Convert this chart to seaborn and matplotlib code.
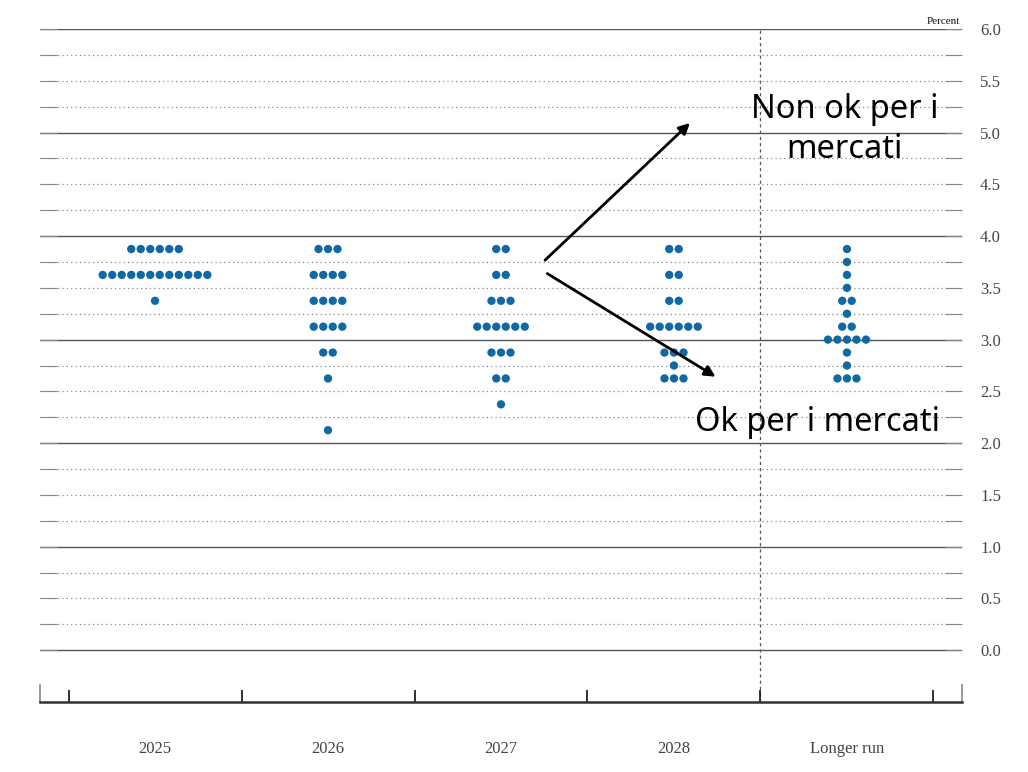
import numpy as np
import pandas as pd
import seaborn as sns
import matplotlib.pyplot as plt

# FOMC dot plot: each entry is (rate, number of participants)
categories = ['2025', '2026', '2027', '2028', 'Longer run']
dots_2025 = [(3.875, 6), (3.625, 12), (3.375, 1)]
dots_2026 = [(3.875, 3), (3.625, 4), (3.375, 4), (3.125, 4), (2.875, 2), (2.625, 1), (2.125, 1)]
dots_2027 = [(3.875, 2), (3.625, 2), (3.375, 3), (3.125, 6), (2.875, 3), (2.625, 2), (2.375, 1)]
dots_2028 = [(3.875, 2), (3.625, 2), (3.375, 2), (3.125, 6), (2.875, 3), (2.75, 1), (2.625, 3)]
dots_longer = [(3.875, 1), (3.75, 1), (3.625, 1), (3.5, 1), (3.375, 2), (3.25, 1),
               (3.125, 2), (3.0, 5), (2.875, 1), (2.75, 1), (2.625, 3)]
y_ticks = np.arange(0, 6.01, 0.5)

all_dots = [dots_2025, dots_2026, dots_2027, dots_2028, dots_longer]
spacing = 0.055
rows = []
for i, (cat, dots) in enumerate(zip(categories, all_dots)):
    for rate, n in dots:
        for j in range(n):
            rows.append({'x': i + (j - (n - 1) / 2) * spacing, 'rate': rate, 'cat': cat})
df = pd.DataFrame(rows)

sns.set_style('white')
fig = plt.figure(figsize=(10.28, 7.72), dpi=100)
ax = fig.add_axes([0.0389, 0.0907, 0.8969, 0.8717])

# grid lines every 0.25, solid at whole numbers
for y in np.arange(0, 6.01, 0.25):
    if abs(y - round(y)) < 1e-9:
        ax.axhline(y, color='#555555', lw=1.0, zorder=0)
    else:
        ax.axhline(y, color='#888888', lw=0.9, ls=(0, (1, 2.5)), zorder=0)
ax.axvline(3.5, color='#555555', lw=0.9, ls=(0, (2.5, 2.5)), zorder=0)

sns.scatterplot(data=df, x='x', y='rate', ax=ax, color='#1068a4', s=36,
                edgecolor='none', legend=False, zorder=3)

ax.set_xlim(-0.665, 4.665)
ax.set_ylim(-0.5, 6.0)

# y axis: labels on the right, inward ticks both sides
ax.set_yticks(y_ticks)
ax.set_yticks(np.arange(0.25, 6.0, 0.5), minor=True)
ax.tick_params(axis='y', which='both', direction='in', length=12, width=0.8,
               color='#888888', left=True, right=True, labelleft=False,
               labelright=True, pad=13)
ax.set_yticklabels([f'{v:.1f}' for v in y_ticks], fontfamily='Liberation Serif',
                   fontsize=12, color='#444444')

# x axis: labels at categories, ticks at boundaries
ax.set_xticks(range(len(categories)))
ax.set_xticklabels(categories, fontfamily='Liberation Serif', fontsize=12, color='#444444')
ax.set_xticks(np.arange(-0.5, 4.51, 1.0), minor=True)
ax.tick_params(axis='x', which='major', length=0, pad=28)
ax.tick_params(axis='x', which='minor', direction='in', length=9, width=1.3,
               color='#222222', bottom=True)
ax.set_xlabel('')
ax.set_ylabel('')

ax.spines['top'].set_visible(False)
ax.spines['bottom'].set_color('#333333')
ax.spines['bottom'].set_linewidth(1.8)
for side in ['left', 'right']:
    ax.spines[side].set_color('#888888')
    ax.spines[side].set_linewidth(1.2)
    ax.spines[side].set_bounds(-0.5, -0.335)

ax.text(0.998, 1.004, 'Percent', transform=ax.transAxes, ha='right', va='bottom',
        fontfamily='Liberation Serif', fontsize=8, color='#111111')

# annotations
arrow = dict(arrowstyle='-|>', lw=2, color='black', mutation_scale=16)
ax.annotate('', xy=(3.104, 5.111), xytext=(2.243, 3.749), arrowprops=arrow, zorder=5)
ax.annotate('', xy=(3.254, 2.628), xytext=(2.254, 3.652), arrowprops=arrow, zorder=5)
ax.text(3.988, 5.03, 'Non ok per i\nmercati', ha='center', va='center', color='black',
        fontfamily='Noto Sans', fontsize=23.5, linespacing=1.3, zorder=6)
ax.text(3.83, 2.2, 'Ok per i mercati', ha='center', va='center', color='black',
        fontfamily='Noto Sans', fontsize=23.5, zorder=6)

plt.savefig('out.png', dpi=100)
